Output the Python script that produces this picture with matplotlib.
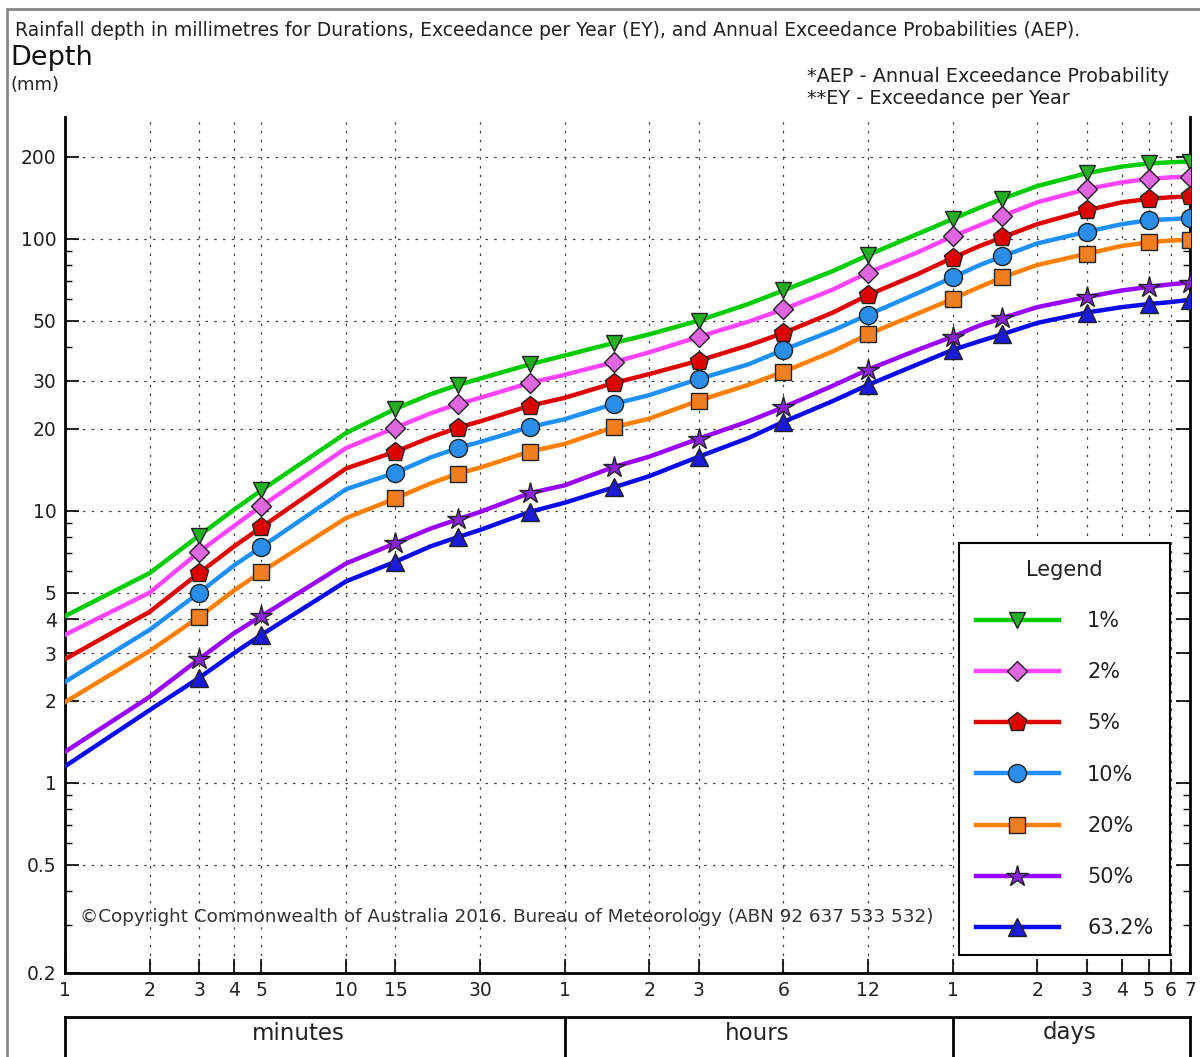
import matplotlib
matplotlib.use("Agg")
import matplotlib.pyplot as plt
from matplotlib.ticker import FixedLocator, FixedFormatter, NullFormatter
from matplotlib.patches import Rectangle

# Durations in minutes
durations = [1, 2, 3, 4, 5, 10, 15, 20, 25, 30, 45, 60, 90, 120, 180, 270, 360,
             540, 720, 1080, 1440, 1800, 2160, 2880, 4320, 5760, 7200, 8640, 10080]

aep_1 = [4.1, 5.9, 8.1, 10.1, 11.9, 19.3, 23.7, 26.8, 29.0, 30.6, 34.5, 37.2, 41.4, 44.5,
         50.0, 57.5, 64.5, 76, 87, 104, 118, 130, 140, 156, 174, 184, 189, 191, 192]
aep_2 = [3.5, 5.0, 7.06, 8.8, 10.4, 17.0, 20.2, 22.8, 24.7, 26.0, 29.5, 31.6, 35.2, 38.2,
         43.6, 49.5, 55, 65, 75, 89, 102, 112, 121, 136, 152, 161, 166, 168, 169]
aep_5 = [2.85, 4.25, 5.9, 7.4, 8.7, 14.3, 16.5, 18.6, 20.2, 21.3, 24.3, 26.0, 29.5, 31.8,
         35.6, 40.5, 45, 53.5, 62, 74, 85, 94, 101, 113, 127, 136, 140, 142, 143]
aep_10 = [2.35, 3.65, 5.0, 6.3, 7.36, 12.0, 13.8, 15.7, 17.0, 17.9, 20.3, 21.7, 24.7, 26.6,
          30.5, 34.5, 39, 46, 52.5, 63, 72, 80, 86, 96, 106, 113, 117, 118, 119]
aep_20 = [1.98, 3.05, 4.07, 5.1, 5.96, 9.4, 11.1, 12.6, 13.7, 14.4, 16.5, 17.6, 20.3, 21.8,
          25.4, 29, 32.4, 38.5, 44.5, 53, 60, 66.5, 72, 80, 88, 94, 97, 98.5, 99]
aep_50 = [1.3, 2.07, 2.85, 3.55, 4.1, 6.4, 7.6, 8.6, 9.3, 9.9, 11.6, 12.4, 14.5, 15.8,
          18.4, 21.3, 24, 28.8, 33, 39, 43.6, 48, 51, 56, 61, 64.5, 66.5, 68, 69]
aep_632 = [1.15, 1.85, 2.43, 3.0, 3.5, 5.5, 6.5, 7.4, 8.0, 8.5, 9.9, 10.7, 12.2, 13.4,
           15.8, 18.5, 21.2, 25.3, 29, 34.5, 39, 42, 44.5, 49, 53.5, 56, 57.5, 58.5, 59.6]

series_labels = ["1%", "2%", "5%", "10%", "20%", "50%", "63.2%"]
series_values = [aep_1, aep_2, aep_5, aep_10, aep_20, aep_50, aep_632]
line_colors = ["#00cc00", "#ff44ff", "#e00000", "#1e90ff", "#ff8000", "#9900ff", "#0a0af0"]
face_colors = ["#22b022", "#e066e0", "#dd0000", "#2a8ee8", "#f07f20", "#8a22e0", "#1a1ad8"]
markers = ["v", "D", "p", "o", "s", "*", "^"]
marker_sizes = [12, 10, 14, 13, 12, 16, 13]

xtick_pos = [1, 2, 3, 4, 5, 10, 15, 30, 60, 120, 180, 360, 720,
             1440, 2880, 4320, 5760, 7200, 8640, 10080]
xtick_lab = ["1", "2", "3", "4", "5", "10", "15", "30", "1", "2", "3", "6", "12",
             "1", "2", "3", "4", "5", "6", "7"]
ytick_major = [0.2, 0.5, 1, 2, 3, 4, 5, 10, 20, 30, 50, 100, 200]
ytick_lab = ["0.2", "0.5", "1", "2", "3", "4", "5", "10", "20", "30", "50", "100", "200"]
ytick_minor = [0.3, 0.4, 0.6, 0.7, 0.8, 0.9, 6, 7, 8, 9, 40, 60, 70, 80, 90]

W, H = 1200, 1057
fig = plt.figure(figsize=(W / 100, H / 100), dpi=100)
fig.patch.set_facecolor("white")

ax = fig.add_axes([65 / W, 1 - 973 / H, (1190 - 65) / W, (973 - 117) / H])
ax.set_xscale("log")
ax.set_yscale("log")

for vals, lab, lc, fc, mk, ms in zip(series_values, series_labels, line_colors,
                                     face_colors, markers, marker_sizes):
    ax.plot(durations, vals, color=lc, lw=3.2, marker=mk, markersize=ms,
            markerfacecolor=fc, markeredgecolor="#222222", markeredgewidth=1.0,
            markevery=slice(2, None, 2), label=lab, zorder=3)

ax.set_xlim(1, 10080)
ax.set_ylim(0.2, 280)

ax.xaxis.set_major_locator(FixedLocator(xtick_pos))
ax.xaxis.set_major_formatter(FixedFormatter(xtick_lab))
ax.xaxis.set_minor_locator(FixedLocator([]))
ax.yaxis.set_major_locator(FixedLocator(ytick_major))
ax.yaxis.set_major_formatter(FixedFormatter(ytick_lab))
ax.yaxis.set_minor_locator(FixedLocator(ytick_minor))
ax.yaxis.set_minor_formatter(NullFormatter())

ax.tick_params(axis="x", which="major", direction="in", length=10, width=1.2,
               labelsize=13.5, pad=6, top=False, labelcolor="#222222")
ax.tick_params(axis="y", which="major", direction="in", length=10, width=1.2,
               labelsize=13.5, pad=6, right=True, labelcolor="#222222")
ax.tick_params(axis="y", which="minor", direction="in", length=5, width=1.0, right=True)

ax.grid(True, which="major", color="#444444", linestyle=(0, (2, 5)), linewidth=0.9)
ax.spines["top"].set_visible(False)
for s in ["left", "right", "bottom"]:
    ax.spines[s].set_linewidth(2)
    ax.spines[s].set_color("black")

ax.text((80 - 65) / 1125, (973 - 917) / 856,
        "\u00a9Copyright Commonwealth of Australia 2016. Bureau of Meteorology (ABN 92 637 533 532)",
        transform=ax.transAxes, fontsize=13.25, color="#333333", va="center", ha="left")

leg = ax.legend(loc="lower right", bbox_to_anchor=((1170 - 65) / 1125, (973 - 955) / 856),
                borderaxespad=0, title="Legend", fontsize=15, title_fontsize=15,
                handlelength=4.0, handletextpad=1.35, labelspacing=1.5, borderpad=0.8,
                fancybox=False, framealpha=1, edgecolor="black")
leg.get_frame().set_linewidth(1.5)
leg.get_title().set_color("#222222")
for t in leg.get_texts():
    t.set_color("#222222")

# Bottom unit box
bax = fig.add_axes([65 / W, -0.02, (1190 - 65) / W, 0.02 + 1 - 1017 / H])
bax.set_xscale("log")
bax.set_xlim(1, 10080)
bax.set_ylim(0, 1)
bax.set_xticks([])
bax.set_yticks([])
bax.minorticks_off()
for s in bax.spines.values():
    s.set_linewidth(2)
bax.axvline(60, color="black", lw=2)
bax.axvline(1440, color="black", lw=2)
unit_names = ["minutes", "hours", "days"]
unit_x = [0.207, 0.615, 0.893]
for nm, ux in zip(unit_names, unit_x):
    bax.text(ux, 1 - (1033 - 1017) / (1057 - 1017 + 0.02 * H), nm, transform=bax.transAxes,
             ha="center", va="center", fontsize=16.5, color="#222222")

# Figure texts
fig.text(15 / W, 1 - 30 / H,
         "Rainfall depth in millimetres for Durations, Exceedance per Year (EY), and Annual Exceedance Probabilities (AEP).",
         fontsize=13.5, ha="left", va="center", color="#222222")
fig.text(10 / W, 1 - 58 / H, "Depth", fontsize=19.5, ha="left", va="center", color="#111111")
fig.text(11 / W, 1 - 85 / H, "(mm)", fontsize=13, ha="left", va="center", color="#222222")
fig.text(807 / W, 1 - 76 / H, "*AEP - Annual Exceedance Probability", fontsize=13.9,
         ha="left", va="center", color="#222222")
fig.text(807 / W, 1 - 98 / H, "**EY - Exceedance per Year", fontsize=13.9,
         ha="left", va="center", color="#222222")

# Outer grey frame
fig.patches.append(Rectangle((7 / W, -0.05), 1.1, 1.05 - 9 / H, transform=fig.transFigure,
                             fill=False, edgecolor="#888888", linewidth=2, clip_on=False))

fig.savefig("out.png", dpi=100, facecolor="white")
